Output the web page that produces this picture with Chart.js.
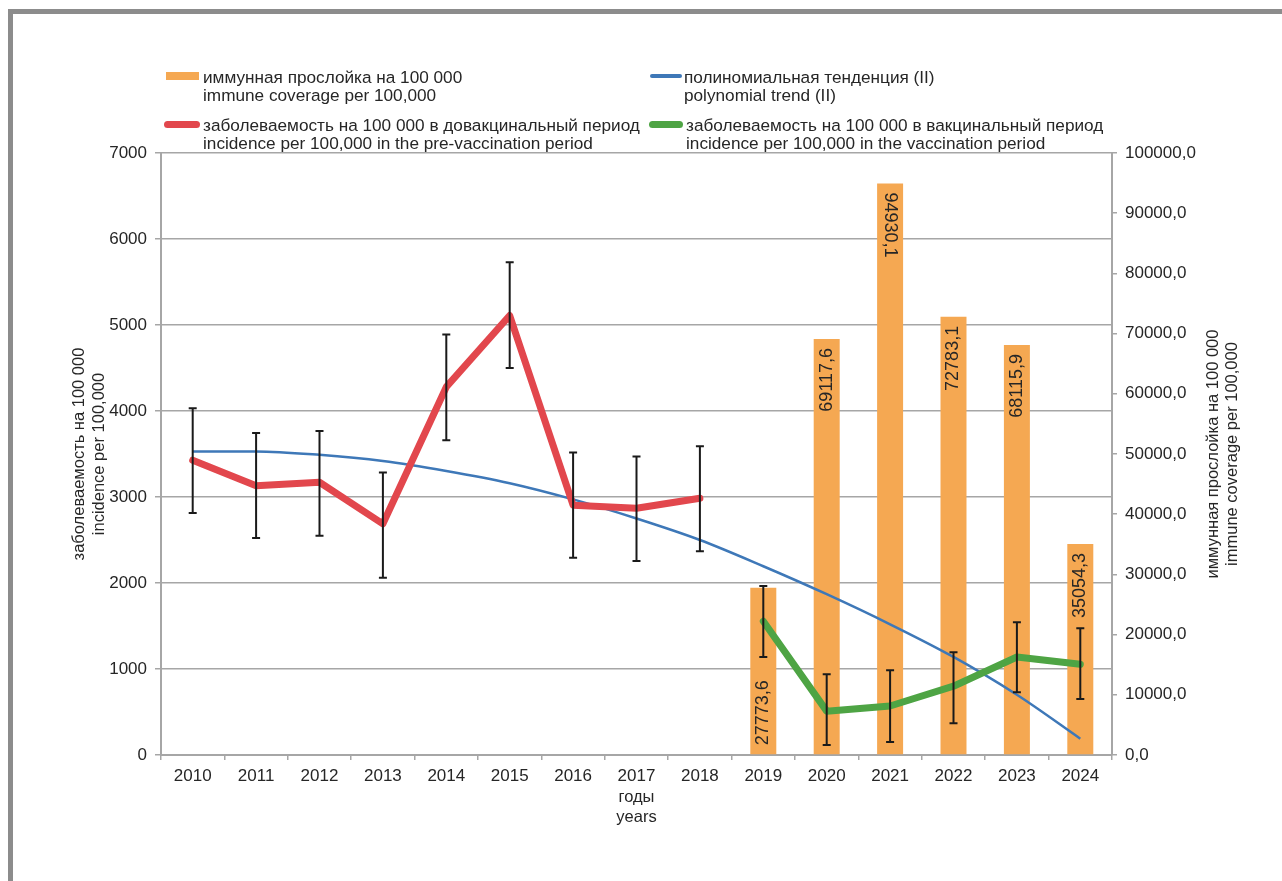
<!DOCTYPE html>
<html>
<head>
<meta charset="utf-8">
<script src="https://cdn.jsdelivr.net/npm/chart.js@4.4.1/dist/chart.umd.min.js"></script>
<style>
html,body{margin:0;padding:0;background:#fff;}
#wrap{position:relative;width:1282px;height:881px;overflow:hidden;font-family:"Liberation Sans",Arial,sans-serif;color:#262626;}
#chart{position:absolute;left:0;top:0;}
.frame{position:absolute;background:#8c8c8c;}
.sw{position:absolute;}
.lt{position:absolute;font-size:17.2px;line-height:18px;white-space:nowrap;}
#rtitle{position:absolute;left:1021.5px;top:435px;width:400px;height:38px;font-size:16.5px;line-height:19.2px;text-align:center;transform:rotate(-90deg);transform-origin:50% 50%;white-space:nowrap;}
</style>
</head>
<body>
<div id="wrap">
  <canvas id="chart" width="1282" height="881"></canvas>
  <div class="frame" style="left:8px;top:9px;width:1274px;height:5px;"></div>
  <div class="frame" style="left:8px;top:9px;width:5px;height:872px;"></div>

  <div class="sw" style="left:166px;top:72px;width:33px;height:8px;background:#f5a852;"></div>
  <div class="lt" style="left:203px;top:68px;">иммунная прослойка на 100 000<br>immune coverage per 100,000</div>

  <div class="sw" style="left:650px;top:74px;width:32px;height:4px;background:#3e78b8;border-radius:2px;"></div>
  <div class="lt" style="left:684px;top:68px;">полиномиальная тенденция (II)<br>polynomial trend (II)</div>

  <div class="sw" style="left:164px;top:121px;width:36px;height:7px;background:#e2474d;border-radius:4px;"></div>
  <div class="lt" style="left:203px;top:116px;">заболеваемость на 100 000 в довакцинальный период<br>incidence per 100,000 in the pre-vaccination period</div>

  <div class="sw" style="left:649px;top:121px;width:34px;height:7px;background:#4ea444;border-radius:4px;"></div>
  <div class="lt" style="left:686px;top:116px;">заболеваемость на 100 000 в вакцинальный период<br>incidence per 100,000 in the vaccination period</div>

  <div id="rtitle">иммунная прослойка на 100 000<br>immune coverage per 100,000</div>
</div>
<script>
const years = ['2010','2011','2012','2013','2014','2015','2016','2017','2018','2019','2020','2021','2022','2023','2024'];

const immuneCoverage = [null,null,null,null,null,null,null,null,null,27773.6,69117.6,94930.1,72783.1,68115.9,35054.3];

const polyTrend = [3530,3530,3490,3418,3302,3160,2972,2750,2500,2195,1870,1520,1140,700,190];

const incidencePre     = [3428,3130,3172,2688,4280,5110,2905,2870,2985,null,null,null,null,null,null];
const incidencePreLow  = [2815,2522,2550,2062,3660,4500,2295,2255,2370,null,null,null,null,null,null];
const incidencePreHigh = [4032,3745,3767,3285,4890,5730,3518,3470,3590,null,null,null,null,null,null];

const incidenceVac     = [null,null,null,null,null,null,null,null,null,1555,510,570,800,1140,1055];
const incidenceVacLow  = [null,null,null,null,null,null,null,null,null,1140,115,150,370,730,650];
const incidenceVacHigh = [null,null,null,null,null,null,null,null,null,1965,940,985,1195,1545,1475];

const leftTitle = ['заболеваемость на 100 000','incidence per 100,000'];
const xTitle = ['годы','years'];

const GRID = '#a6a6a6';
const TXT = '#262626';
Chart.defaults.font.family = '"Liberation Sans", Arial, sans-serif';
Chart.defaults.font.size = 17;
Chart.defaults.color = TXT;

const errorBarPlugin = {
  id: 'errorBars',
  afterDatasetsDraw(chart, args, opts) {
    const ctx = chart.ctx;
    const xs = chart.scales.x, ys = chart.scales.y;
    ctx.save();
    ctx.strokeStyle = '#1a1a1a';
    ctx.lineWidth = 2;
    opts.sets.forEach(set => {
      set.low.forEach((lo, i) => {
        const hi = set.high[i];
        if (lo == null || hi == null) return;
        const x = xs.getPixelForValue(i);
        const y1 = ys.getPixelForValue(lo), y2 = ys.getPixelForValue(hi);
        ctx.beginPath();
        ctx.moveTo(x, y1); ctx.lineTo(x, y2);
        ctx.moveTo(x - 4, y1); ctx.lineTo(x + 4, y1);
        ctx.moveTo(x - 4, y2); ctx.lineTo(x + 4, y2);
        ctx.stroke();
      });
    });
    ctx.restore();
  }
};

const barLabelPlugin = {
  id: 'barLabels',
  afterDatasetsDraw(chart, args, opts) {
    const ctx = chart.ctx;
    const idx = chart.data.datasets.findIndex(d => d.type === 'bar');
    const meta = chart.getDatasetMeta(idx);
    const data = chart.data.datasets[idx].data;
    ctx.save();
    ctx.fillStyle = TXT;
    ctx.font = '18px "Liberation Sans", Arial, sans-serif';
    ctx.textBaseline = 'middle';
    meta.data.forEach((el, i) => {
      const v = data[i];
      if (v == null) return;
      const text = v.toFixed(1).replace('.', ',');
      const mode = opts.modes[years[i]] || 'end';
      const pad = opts.pad;
      ctx.save();
      if (mode === 'base') {
        ctx.translate(el.x, el.base - pad); ctx.rotate(-Math.PI / 2); ctx.textAlign = 'left';
      } else if (mode === 'endDown') {
        ctx.translate(el.x, el.y + pad); ctx.rotate(Math.PI / 2); ctx.textAlign = 'left';
      } else {
        ctx.translate(el.x, el.y + pad); ctx.rotate(-Math.PI / 2); ctx.textAlign = 'right';
      }
      ctx.fillText(text, 0, 0);
      ctx.restore();
    });
    ctx.restore();
  }
};

new Chart(document.getElementById('chart'), {
  type: 'bar',
  data: {
    labels: years,
    datasets: [
      {
        type: 'line', label: 'incidencePre', data: incidencePre, yAxisID: 'y',
        borderColor: '#e2474d', borderWidth: 7, pointRadius: 0, tension: 0,
        borderJoinStyle: 'round', borderCapStyle: 'round', spanGaps: false, order: 2
      },
      {
        type: 'line', label: 'incidenceVac', data: incidenceVac, yAxisID: 'y',
        borderColor: '#4ea444', borderWidth: 7, pointRadius: 0, tension: 0,
        borderJoinStyle: 'round', borderCapStyle: 'round', spanGaps: false, order: 1
      },
      {
        type: 'line', label: 'polyTrend', data: polyTrend, yAxisID: 'y',
        borderColor: '#3e78b8', borderWidth: 2.5, pointRadius: 0,
        cubicInterpolationMode: 'monotone', order: 3
      },
      {
        type: 'bar', label: 'immuneCoverage', data: immuneCoverage, yAxisID: 'y1',
        backgroundColor: '#f5a852', barPercentage: 0.41, categoryPercentage: 1, order: 10
      }
    ]
  },
  options: {
    responsive: false,
    animation: false,
    devicePixelRatio: 1,
    layout: { padding: { left: 60, right: 0, top: 153, bottom: 54 } },
    plugins: {
      legend: { display: false },
      tooltip: { enabled: false },
      errorBars: { sets: [
        { low: incidencePreLow, high: incidencePreHigh },
        { low: incidenceVacLow, high: incidenceVacHigh }
      ] },
      barLabels: { pad: 9, modes: { '2019': 'base', '2021': 'endDown' } }
    },
    scales: {
      x: {
        grid: { display: true, drawOnChartArea: false, offset: true, tickLength: 5, color: GRID, lineWidth: 1.5 },
        border: { display: true, color: GRID, width: 2 },
        ticks: { padding: 6.5, maxRotation: 0, autoSkip: false, color: TXT },
        title: { display: true, text: xTitle, font: { size: 16.5 }, color: TXT, padding: { top: 0, bottom: 0 } },
        afterFit(s) { s.height = 72; }
      },
      y: {
        position: 'left', min: 0, max: 7000,
        ticks: { stepSize: 1000, padding: 8, color: TXT, callback: v => String(v) },
        grid: { color: GRID, lineWidth: 1.5, tickLength: 6 },
        border: { display: true, color: GRID, width: 2 },
        title: { display: true, text: leftTitle, font: { size: 16.5 }, color: TXT, padding: { top: 9.5, bottom: 0 } },
        afterFit(s) { s.width = 101; }
      },
      y1: {
        position: 'right', min: 0, max: 100000,
        ticks: { stepSize: 10000, padding: 8, color: TXT,
                 callback: v => v.toFixed(1).replace('.', ',') },
        grid: { drawOnChartArea: false, color: GRID, lineWidth: 1.5, tickLength: 5 },
        border: { display: true, color: GRID, width: 2 },
        afterFit(s) { s.width = 170; }
      }
    }
  },
  plugins: [errorBarPlugin, barLabelPlugin]
});
</script>
</body>
</html>
